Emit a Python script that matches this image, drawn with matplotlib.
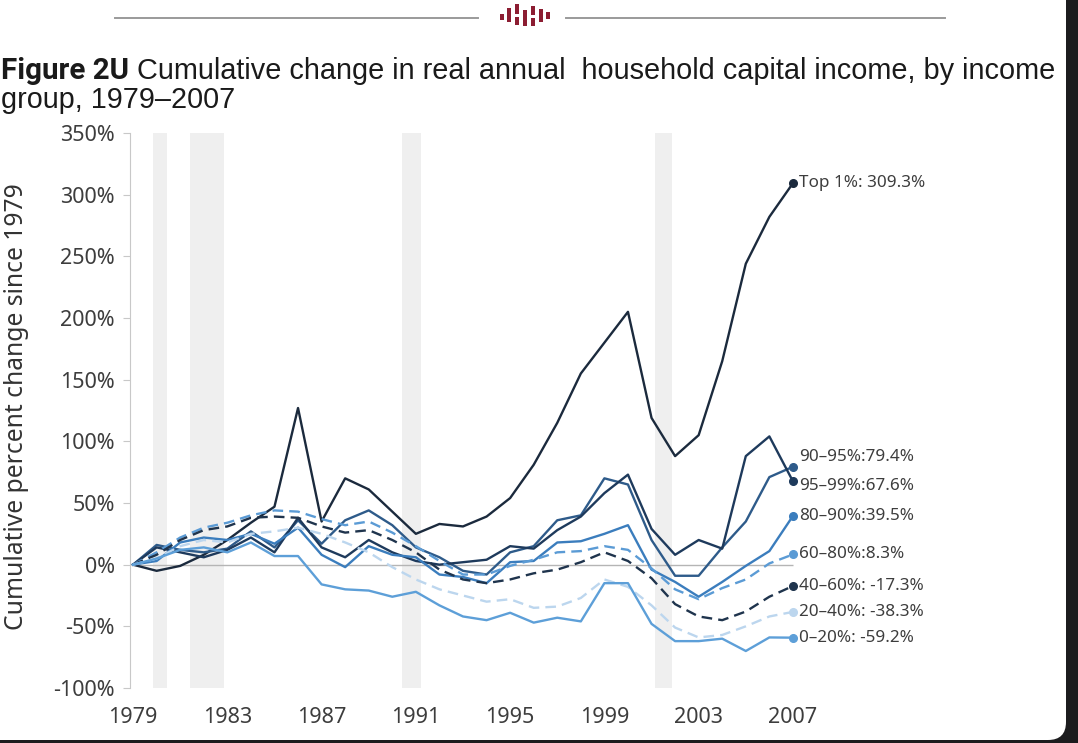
import matplotlib
matplotlib.use('Agg')
import matplotlib.pyplot as plt
from matplotlib.patches import FancyBboxPatch, Rectangle
from matplotlib.lines import Line2D
from matplotlib.transforms import IdentityTransform

years = list(range(1979, 2008))

top1 = [0, -5, -1, 8, 20, 34, 47, 127, 35, 70, 61, 43, 25, 33, 31, 39, 54, 81,
        115, 155, 180, 205, 119, 88, 105, 165, 244, 282, 309.3]
p95_99 = [0, 14, 10, 6, 12, 22, 10, 38, 14, 6, 20, 10, 3, 0, 2, 4, 15, 13, 28,
          39, 58, 73, 29, 8, 20, 13, 88, 104, 67.6]
p90_95 = [0, 16, 12, 10, 13, 27, 14, 36, 17, 36, 44, 32, 14, 6, -5, -8, 10, 15,
          36, 40, 70, 65, 20, -9, -9, 14, 35, 71, 79.4]
p80_90 = [0, 3, 18, 22, 20, 25, 17, 30, 8, -2, 15, 8, 6, -8, -10, -15, 2, 3, 18,
          19, 25, 32, -4, -14, -26, -14, -1, 11, 39.5]
p60_80 = [0, 10, 22, 30, 34, 40, 44, 43, 37, 32, 35, 26, 15, 3, -8, -8, -1, 4,
          10, 11, 15, 12, -3, -20, -28, -19, -12, 1, 8.3]
p40_60 = [0, 8, 20, 28, 31, 38, 39, 38, 31, 26, 28, 20, 10, -4, -12, -15, -12,
          -7, -4, 2, 10, 3, -11, -32, -42, -45, -38, -26, -17.3]
p20_40 = [0, 5, 15, 20, 18, 25, 27, 30, 25, 18, 10, -2, -12, -20, -25, -30, -28,
          -35, -34, -27, -12, -18, -33, -51, -59, -57, -50, -42, -38.3]
p0_20 = [0, 5, 12, 14, 10, 18, 7, 7, -16, -20, -21, -26, -22, -33, -42, -45,
         -39, -47, -43, -46, -15, -15, -48, -62, -62, -60, -70, -59, -59.2]

labels = ['Top 1%: 309.3%', '90\u201395%:79.4%', '95\u201399%:67.6%',
          '80\u201390%:39.5%', '60\u201380%:8.3%', '40\u201360%: -17.3%',
          '20\u201340%: -38.3%', '0\u201320%: -59.2%']

recessions = [(1979.85, 1980.45), (1981.4, 1982.85), (1990.4, 1991.2),
              (2001.15, 2001.85)]

yticks = [-100, -50, 0, 50, 100, 150, 200, 250, 300, 350]
xticks = list(range(1979, 2008, 4))

# series, color, dashed, label pixel offset
series = [
    (top1, '#1b2a3d', False, 0),
    (p90_95, '#2e5b8a', False, 10),
    (p95_99, '#1e3a5c', False, -5),
    (p80_90, '#3b7dbd', False, 0),
    (p60_80, '#5b9bd5', True, 0),
    (p40_60, '#1f344d', True, 0),
    (p20_40, '#bcd6ee', True, 0),
    (p0_20, '#5d9fd8', False, 0),
]

plt.rcParams['font.family'] = ['Noto Sans', 'DejaVu Sans']

W, H = 1078, 743
fig = plt.figure(figsize=(W / 100, H / 100), dpi=100, facecolor='#1c1c1e')
renderer = fig.canvas.get_renderer()

card = FancyBboxPatch((-40, 3), 1106, 800,
                      boxstyle='round,pad=0,rounding_size=18',
                      transform=IdentityTransform(), fc='white', ec='none',
                      zorder=-10)
fig.patches.append(card)


def fit_text(x, y, s, width_px, size=18, **kw):
    t = fig.text(x, y, s, fontsize=size, **kw)
    w = t.get_window_extent(renderer).width
    t.set_fontsize(size * width_px / w)
    return t


# header rule and little logo
for x0, x1 in [(115, 478), (566, 945)]:
    fig.add_artist(Line2D([x0, x1], [H - 18, H - 18], transform=IdentityTransform(),
                          color='#9a9a9a', lw=1.4))
for bx, by, bh in [(500, 14, 6), (507, 8, 14), (515, 4, 10), (515, 17, 8),
                   (523, 10, 16), (531, 6, 9), (531, 18, 8), (539, 9, 13),
                   (546, 12, 7)]:
    fig.patches.append(Rectangle((bx, H - by - bh), 4, bh, transform=IdentityTransform(),
                                 fc='#8c1d32', ec='none'))

# title
fit_text(1 / W, 1 - 79 / H, 'Figure 2U', 128, size=17, fontweight='bold',
         color='#1a1a1a', va='baseline', family=['Roboto', 'DejaVu Sans'])
fam = ['Liberation Sans Narrow', 'Liberation Sans']
fit_text(137 / W, 1 - 79 / H,
         'Cumulative change in real annual  household capital income, by income',
         921, size=19, va='baseline', color='#1a1a1a', family=fam)
fit_text(1 / W, 1 - 108 / H, 'group, 1979\u20132007', 234, size=19,
         va='baseline', color='#1a1a1a', family=fam)

yl = fit_text(17 / W, 1 - 407 / H, 'Cumulative percent change since 1979', 445,
              size=17, color='#333333', ha='center', va='center')
yl.set_rotation(90)

ax = fig.add_axes([130 / W, 1 - 688 / H, 670 / W, (688 - 133) / H])
ax.set_xlim(1978.87, 2007.3)
ax.set_ylim(-100, 350)

for a, b in recessions:
    ax.axvspan(a, b, color='#efefef', lw=0, zorder=0)

ax.hlines(0, years[0], years[-1], color='#b5b5b5', lw=1, zorder=1)

for (vals, col, dashed, dy), lab in zip(series, labels):
    ls = (0, (4.5, 2.6)) if dashed else '-'
    ax.plot(years, vals, color=col, lw=1.7, ls=ls, zorder=3)
    ax.plot(years[-1], vals[-1], 'o', color=col, ms=5.5, zorder=4, clip_on=False)
    ax.annotate(lab, (years[-1], vals[-1]), xytext=(6, dy), textcoords='offset pixels',
                va='center', ha='left', fontsize=12.3, color='#3d3d3d',
                annotation_clip=False)

for s in ['top', 'right', 'bottom']:
    ax.spines[s].set_visible(False)
ax.spines['left'].set_color('#c8c8c8')
ax.spines['left'].set_bounds(-100, 350)

ax.set_yticks(yticks)
ax.set_yticklabels([f'{v}%' for v in yticks])
ax.set_xticks(xticks)
ax.set_xticklabels([str(v) for v in xticks])
ax.tick_params(axis='y', length=5, color='#c8c8c8', labelsize=15.5,
               labelcolor='#3d3d3d', pad=6)
ax.tick_params(axis='x', length=0, labelsize=15.5, labelcolor='#3d3d3d', pad=14)
ax.patch.set_alpha(0)

fig.savefig('out.png', dpi=100, facecolor=fig.get_facecolor())
